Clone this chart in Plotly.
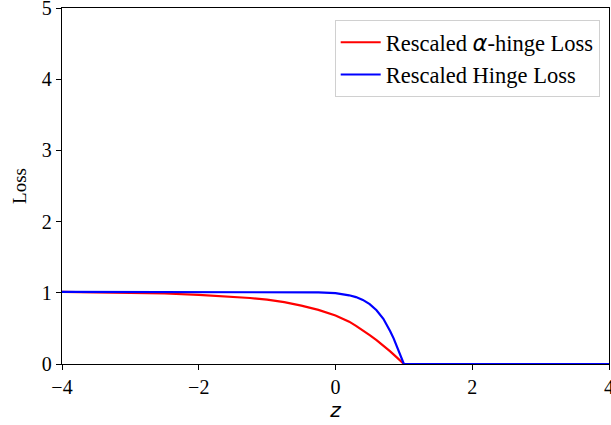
import plotly.graph_objects as go

# Read-off values
z_alpha = [-4.0, -3.5, -3.0, -2.5, -2.0, -1.5, -1.25, -1.0, -0.75, -0.5, -0.25, 0.0, 0.1, 0.2, 0.3, 0.4,
           0.5, 0.6, 0.7, 0.8, 0.9, 1.0, 2.0, 3.0, 4.0]
loss_alpha = [1.012, 1.008, 1.0, 0.99, 0.972, 0.945, 0.927, 0.905, 0.868, 0.82, 0.76, 0.68, 0.64, 0.595, 0.535, 0.475,
              0.405, 0.335, 0.26, 0.178, 0.09, 0.0, 0.0, 0.0, 0.0]

z_hinge = [-4.0, -3.0, -2.0, -1.0, -0.5, -0.25, 0.0, 0.1, 0.2, 0.3, 0.4, 0.5, 0.6, 0.7, 0.75, 0.8,
           0.85, 0.9, 0.95, 1.0, 2.0, 3.0, 4.0]
loss_hinge = [1.012, 1.012, 1.012, 1.012, 1.01, 1.006, 0.995, 0.985, 0.965, 0.94, 0.9, 0.84, 0.755, 0.635, 0.555, 0.46,
              0.36, 0.245, 0.125, 0.0, 0.0, 0.0, 0.0]

x_ticks = [-4, -2, 0, 2, 4]
x_labels = ["−4", "−2", "0", "2", "4"]
y_ticks = [0, 1, 2, 3, 4, 5]

serif = "Liberation Serif"
alpha_label = 'Rescaled <span style="font-family:DejaVu Sans"><i>α</i></span>-hinge Loss'

fig = go.Figure()
fig.add_trace(go.Scatter(x=z_alpha, y=loss_alpha, mode="lines", name=alpha_label,
                         line=dict(color="#ff0000", width=2.2)))
fig.add_trace(go.Scatter(x=z_hinge, y=loss_hinge, mode="lines", name="Rescaled Hinge Loss",
                         line=dict(color="#0000ff", width=2.2)))

axis_common = dict(showgrid=False, zeroline=False, showline=True, linecolor="black", linewidth=1.3,
                   mirror=True, ticks="outside", ticklen=5, tickwidth=1.3, tickcolor="black",
                   ticklabeloverflow="allow", automargin=False)
fig.update_xaxes(range=[-4, 4], tickmode="array", tickvals=x_ticks, ticktext=x_labels,
                 tickfont=dict(family=serif, size=20, color="black"),
                 title=dict(text="<i>z</i>", font=dict(family="DejaVu Sans", size=20, color="black"), standoff=4),
                 **axis_common)
fig.update_yaxes(range=[0, 5], tickmode="array", tickvals=y_ticks, ticktext=[str(v) for v in y_ticks],
                 tickfont=dict(family=serif, size=20, color="black"),
                 title=dict(text="Loss", font=dict(family=serif, size=19, color="black"), standoff=10),
                 **axis_common)

fig.update_layout(
    width=611, height=425,
    margin=dict(l=62, r=2, t=8, b=61, autoexpand=False),
    font=dict(family=serif, color="black"),
    plot_bgcolor="white", paper_bgcolor="white",
    legend=dict(x=0.983, y=0.966, xanchor="right", yanchor="top",
                bordercolor="#d0d0d0", borderwidth=1, bgcolor="rgba(255,255,255,0.8)",
                font=dict(family=serif, size=22.5, color="black"), itemwidth=40),
    showlegend=True,
)

fig.write_html("out.html")
